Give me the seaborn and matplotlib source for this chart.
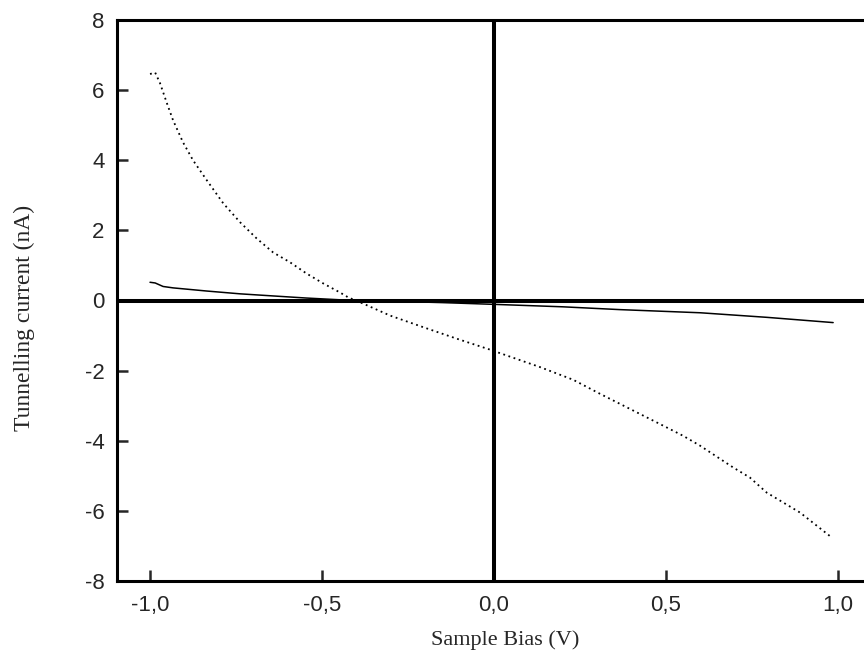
import matplotlib
matplotlib.use("Agg")
import matplotlib.pyplot as plt
import seaborn as sns
import pandas as pd
from matplotlib.ticker import FuncFormatter

# Sample bias (V) and tunnelling current (nA) for the two I-V curves
bias_dotted = [-1.0, -0.985, -0.971, -0.951, -0.933, -0.904, -0.875, -0.835, -0.787,
               -0.738, -0.69, -0.642, -0.593, -0.545, -0.497, -0.448, -0.424, -0.38,
               -0.302, -0.206, -0.108, -0.012, 0.017, 0.134, 0.23, 0.308, 0.405,
               0.502, 0.55, 0.599, 0.695, 0.744, 0.793, 0.89, 0.982]
current_dotted = [6.46, 6.5, 6.2, 5.63, 5.14, 4.51, 4.0, 3.43, 2.77,
                  2.23, 1.77, 1.37, 1.09, 0.77, 0.49, 0.23, 0.09, -0.09,
                  -0.43, -0.76, -1.09, -1.4, -1.5, -1.9, -2.26, -2.66, -3.14,
                  -3.62, -3.86, -4.14, -4.76, -5.05, -5.48, -6.05, -6.76]

bias_solid = [-1.0, -0.985, -0.962, -0.933, -0.835, -0.738, -0.642, -0.545, -0.448,
              -0.3, -0.15, 0.0, 0.2, 0.366, 0.6, 0.793, 0.986]
current_solid = [0.52, 0.5, 0.4, 0.36, 0.27, 0.19, 0.13, 0.07, 0.02,
                 -0.02, -0.06, -0.11, -0.18, -0.26, -0.35, -0.48, -0.63]

x_ticks = [-1.0, -0.5, 0.0, 0.5, 1.0]
y_ticks = [-8, -6, -4, -2, 0, 2, 4, 6, 8]

sns.set_style("ticks")
plt.rcParams["font.family"] = ["Liberation Sans", "DejaVu Sans"]
plt.rcParams["axes.unicode_minus"] = False

W, H = 864, 661
fig = plt.figure(figsize=(W / 100, H / 100), dpi=100)
# axes run past the right edge of the figure, so the right spine is cut off
ax_left, ax_right, ax_top, ax_bottom = 117, 893, 20, 581
ax = fig.add_axes([ax_left / W, 1 - ax_bottom / H,
                   (ax_right - ax_left) / W, (ax_bottom - ax_top) / H])

df_dot = pd.DataFrame({"bias": bias_dotted, "current": current_dotted})
df_sol = pd.DataFrame({"bias": bias_solid, "current": current_solid})

sns.lineplot(data=df_dot, x="bias", y="current", ax=ax, color="black",
             linewidth=1.3, linestyle=(0, (1, 2)), sort=False)
sns.lineplot(data=df_sol, x="bias", y="current", ax=ax, color="black",
             linewidth=1.1, sort=False)

ax.axhline(0, color="black", linewidth=2.9, zorder=1)
ax.axvline(0, color="black", linewidth=2.9, zorder=1)

ax.set_xlim(-1.096, 1.16)
ax.set_ylim(-8, 8)
ax.set_xticks(x_ticks)
ax.set_yticks(y_ticks)
ax.xaxis.set_major_formatter(FuncFormatter(lambda v, p: f"{v:.1f}".replace(".", ",")))
ax.tick_params(direction="in", length=8, width=1.8, labelsize=16,
               top=False, right=False)
ax.tick_params(axis="x", pad=10)
ax.tick_params(axis="y", pad=9)

for side in ("left", "bottom", "top", "right"):
    ax.spines[side].set_linewidth(2.2)
    ax.spines[side].set_color("black")

ax.set_xlabel("Sample Bias (V)", fontsize=16, family=["Liberation Serif"])
ax.set_ylabel("Tunnelling current (nA)", fontsize=17, family=["Liberation Serif"])
axw, axh = ax_right - ax_left, ax_bottom - ax_top
ax.xaxis.set_label_coords((505 - ax_left) / axw, -(640 - ax_bottom) / axh)
ax.yaxis.set_label_coords((24 - ax_left) / axw, (ax_bottom - 318) / axh)
ax.xaxis.label.set_va("center")
ax.yaxis.label.set_va("center")

fig.savefig("out.png", dpi=100)
